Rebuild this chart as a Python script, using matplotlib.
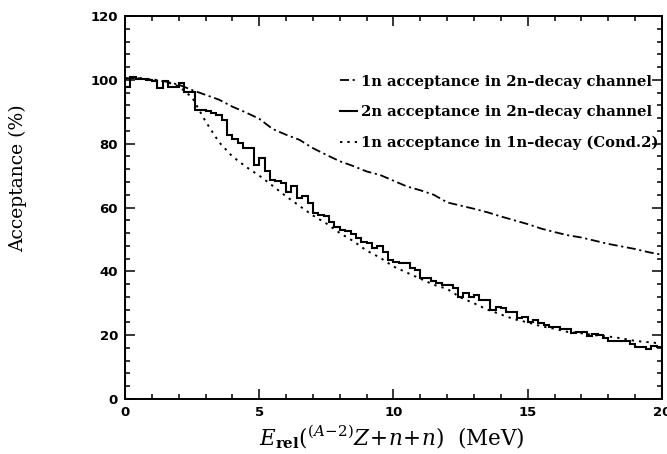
import numpy as np
import matplotlib
matplotlib.use("Agg")
import matplotlib.pyplot as plt
from matplotlib.lines import Line2D
from matplotlib.ticker import MultipleLocator

plt.rcParams['font.family'] = 'DejaVu Serif'
plt.rcParams['mathtext.fontset'] = 'dejavuserif'

# 2n acceptance in 2n-decay channel (histogram, 0.2 MeV bins)
bin_edges = np.arange(0, 20.001, 0.2)
acc_2n = [97.9, 101.0, 100.2, 100.4, 100.0, 99.6, 97.4, 99.5, 97.7, 97.7,
          99.0, 96.3, 96.3, 90.6, 90.6, 90.1, 89.5, 89.0, 87.3, 82.8,
          81.4, 80.1, 78.6, 78.6, 73.4, 75.6, 71.3, 68.6, 68.2, 67.8,
          64.8, 66.6, 62.9, 63.7, 61.5, 58.4, 57.7, 57.5, 55.6, 54.0,
          53.0, 52.5, 51.8, 50.5, 49.3, 48.8, 47.2, 47.8, 46.2, 43.6,
          43.0, 42.6, 42.6, 40.9, 40.4, 37.8, 37.8, 37.0, 36.3, 35.7,
          35.7, 34.7, 32.1, 33.1, 32.1, 32.6, 31.0, 31.0, 28.0, 28.9,
          28.4, 27.4, 27.4, 25.3, 25.8, 24.2, 24.8, 23.7, 23.2, 22.7,
          22.7, 21.8, 21.8, 20.6, 21.1, 21.1, 19.6, 20.4, 20.0, 19.0,
          18.2, 18.2, 18.2, 18.2, 17.2, 16.4, 16.4, 15.7, 16.7, 16.4]

# smooth curves, every 0.5 MeV
e_grid = np.arange(0, 20.001, 0.5)
acc_1n_2n = [100.5, 100.5, 100.0, 99.5, 98.5, 96.8, 95.3, 93.8, 91.6, 89.8,
             87.8, 84.6, 82.8, 81.2, 78.6, 76.5, 74.5, 73.0, 71.3, 70.2,
             68.4, 66.6, 65.4, 64.0, 61.6, 60.6, 59.6, 58.5, 57.2, 56.0,
             54.8, 53.4, 52.3, 51.3, 50.6, 49.6, 48.6, 47.8, 47.0, 46.0, 45.2]
acc_1n_1n = [100.5, 100.6, 100.2, 99.5, 98.0, 94.5, 87.0, 80.5, 76.0, 72.8,
             70.0, 66.8, 63.5, 60.5, 57.5, 55.0, 52.0, 49.5, 46.5, 44.3,
             41.5, 39.6, 37.7, 35.8, 34.5, 31.8, 30.0, 28.0, 26.5, 25.0,
             24.0, 22.8, 22.0, 21.0, 20.6, 20.0, 19.6, 19.0, 18.2, 17.8, 17.4]

labels = ['1n acceptance in 2n\u2013decay channel',
          '2n acceptance in 2n\u2013decay channel',
          '1n acceptance in 1n\u2013decay (Cond.2)']

dashdot = (0, (5, 2, 1.2, 2))
dotted = (0, (1.2, 2.6))

fig = plt.figure(figsize=(6.67, 4.54), dpi=100)
ax = fig.add_axes([0.1874, 0.1211, 0.8051, 0.8436])

ax.plot(e_grid, acc_1n_2n, color='black', lw=1.3, ls=dashdot)
ax.stairs(acc_2n, bin_edges, color='black', lw=1.5)
ax.plot(e_grid, acc_1n_1n, color='black', lw=1.4, ls=dotted)

ax.set_xlim(0, 20)
ax.set_ylim(0, 120)
ax.xaxis.set_major_locator(MultipleLocator(5))
ax.xaxis.set_minor_locator(MultipleLocator(1))
ax.yaxis.set_major_locator(MultipleLocator(20))
ax.yaxis.set_minor_locator(MultipleLocator(4))
ax.tick_params(which='both', direction='in', top=True, right=True, width=1.1)
ax.tick_params(which='major', length=7, pad=5)
ax.tick_params(which='minor', length=3.5)
for s in ax.spines.values():
    s.set_linewidth(1.4)
for lab in ax.get_xticklabels() + ax.get_yticklabels():
    lab.set_family('DejaVu Sans')
    lab.set_fontweight('bold')
    lab.set_fontsize(9.5)

ax.set_ylabel('Acceptance (%)', fontsize=13.5)
ax.yaxis.set_label_coords(-0.183, 0.577)
ax.set_xlabel(r'$E_{\mathbf{rel}}(^{(A\!-\!2)}Z\!+\!n\!+\!n)$  (MeV)', fontsize=15.5)
ax.xaxis.set_label_coords(0.497, -0.062)

handles = [Line2D([], [], color='black', lw=1.3, ls=dashdot),
           Line2D([], [], color='black', lw=1.5),
           Line2D([], [], color='black', lw=1.4, ls=dotted)]
ax.legend(handles, labels, loc='upper left', bbox_to_anchor=(0.40, 0.847),
          frameon=False, borderpad=0, borderaxespad=0, handlelength=1.2,
          handletextpad=0.25, labelspacing=1.12,
          prop={'family': 'DejaVu Serif', 'weight': 'bold', 'size': 10.6})

fig.savefig('out.png', dpi=100)
